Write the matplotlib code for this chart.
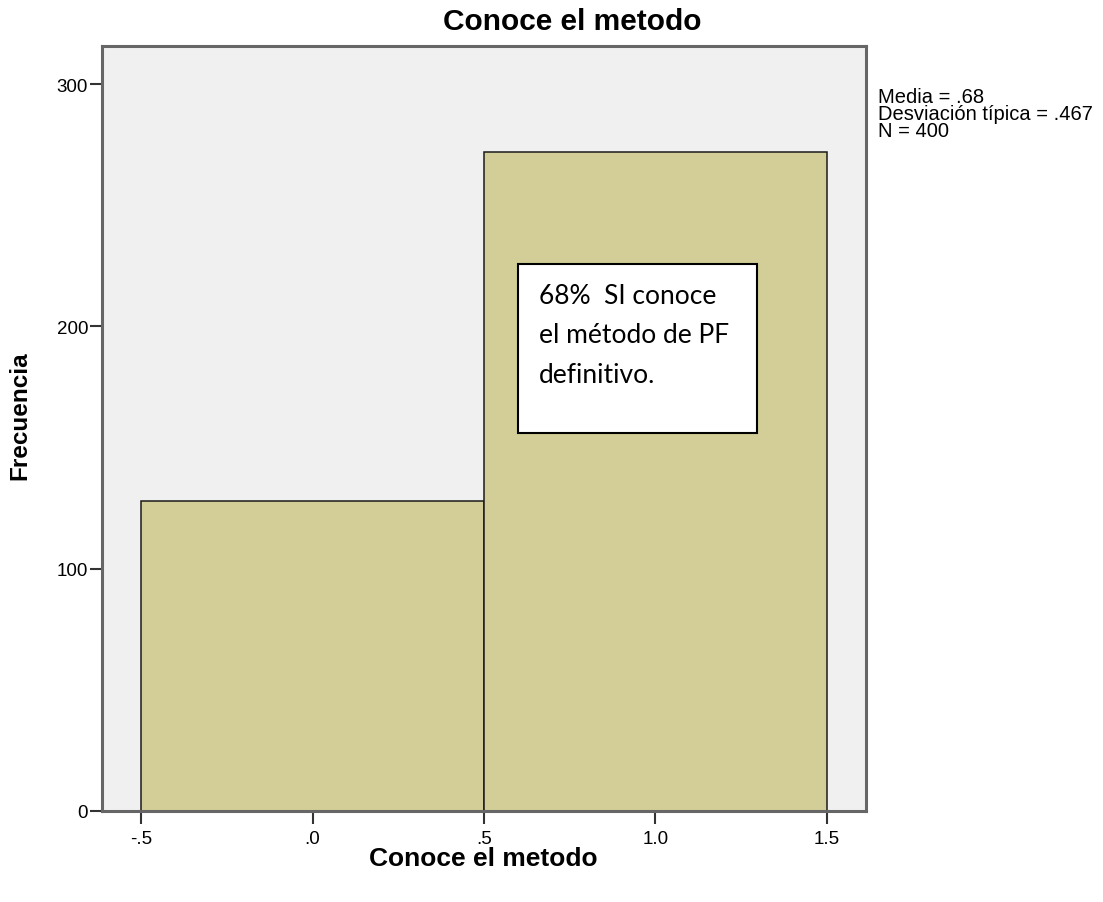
import matplotlib
matplotlib.use('Agg')
import matplotlib.pyplot as plt
from matplotlib.patches import Rectangle

# ── data ──────────────────────────────────────────────────────────────────────
bin_edges = [-0.5, 0.5, 1.5]
counts = [128, 272]
x_ticks = [-0.5, 0.0, 0.5, 1.0, 1.5]
x_ticklabels = ['-.5', '.0', '.5', '1.0', '1.5']
y_ticks = [0, 100, 200, 300]
stats_lines = ['Media = .68', 'Desviación típica = .467', 'N = 400']
note_lines = ['68%  SI conoce', 'el método de PF', 'definitivo.']

W, H = 1103, 903
fig = plt.figure(figsize=(W / 100, H / 100), dpi=100)
ax = fig.add_axes([102 / W, 1 - 812 / H, (866 - 102) / W, (812 - 47) / H])
ax.set_facecolor('#F0F0F0')

widths = [bin_edges[i + 1] - bin_edges[i] for i in range(len(counts))]
ax.bar(bin_edges[:-1], counts, width=widths, align='edge',
       color='#D3CE98', edgecolor='#1a1a1a', linewidth=1.1, zorder=2)

ax.set_xlim(-0.614, 1.614)
ax.set_ylim(0, 315.7)
ax.set_xticks(x_ticks)
ax.set_xticklabels(x_ticklabels)
ax.set_yticks(y_ticks)
ax.tick_params(axis='both', direction='out', length=9, width=1.5,
               color='#333333', labelsize=13.5, pad=5)
ax.tick_params(axis='y', pad=1)
for s in ax.spines.values():
    s.set_color('#666666')
    s.set_linewidth(2.2)
for lbl in ax.get_xticklabels() + ax.get_yticklabels():
    lbl.set_fontfamily('Liberation Sans')

# annotation box
ax.add_patch(Rectangle((0.599, 156), 0.697, 69.7, facecolor='white',
                       edgecolor='black', linewidth=1.5, zorder=3))
ax.text(0.66, 218, '\n'.join(note_lines), fontsize=19, family='Lato',
        va='top', ha='left', linespacing=1.72, zorder=4)

# titles and labels
fig.text(572 / W, 1 - 22 / H, 'Conoce el metodo', fontsize=21.5, fontweight='bold',
         family='Liberation Sans', ha='center', va='center')
fig.text(483 / W, 1 - 859 / H, 'Conoce el metodo', fontsize=19, fontweight='bold',
         family='Liberation Sans', ha='center', va='center')
fig.text(20 / W, 1 - 416 / H, 'Frecuencia', fontsize=17.5, fontweight='bold',
         family='Liberation Sans', ha='center', va='center', rotation=90)
fig.text(878 / W, 1 - 88 / H, '\n'.join(stats_lines), fontsize=14.5,
         family='Liberation Sans', ha='left', va='top', linespacing=0.86)

fig.savefig('out.png', dpi=100, facecolor='white')
